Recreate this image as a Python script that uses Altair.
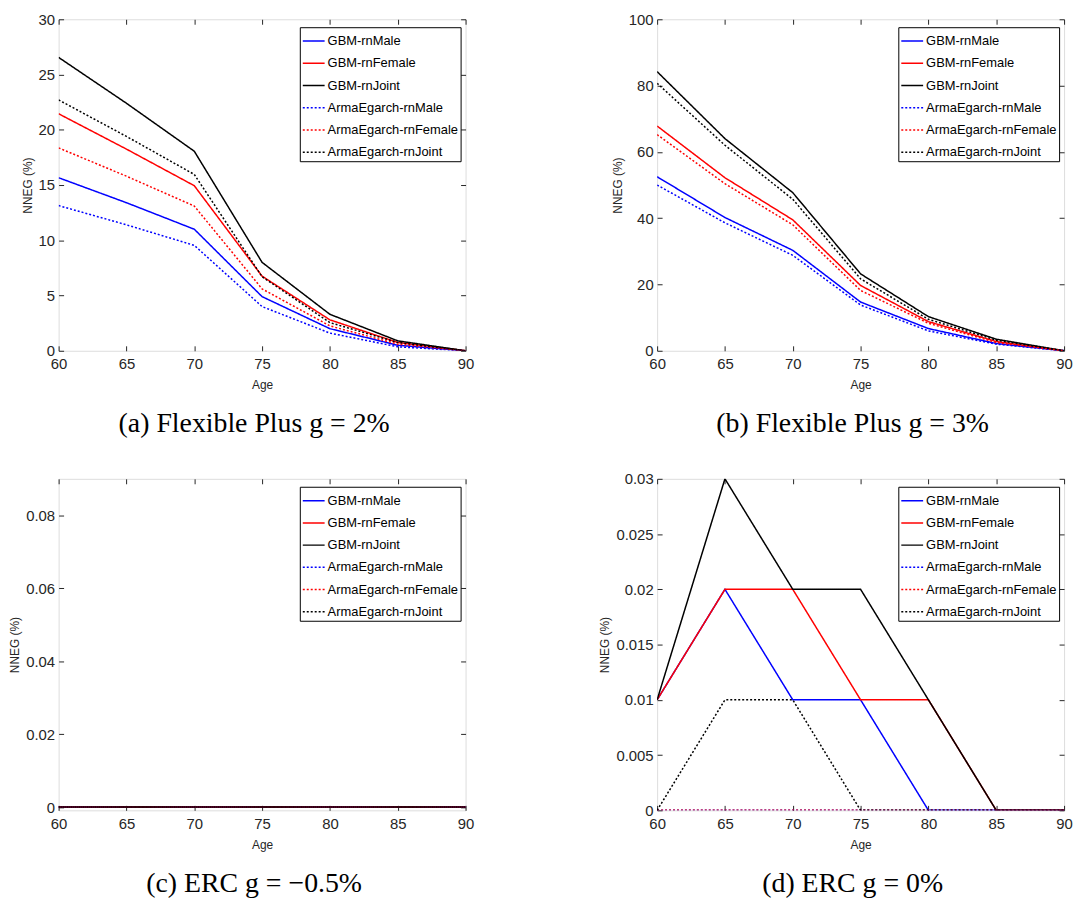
import altair as alt
import pandas as pd

ages = [60, 65, 70, 75, 80, 85, 90]
series_names = ["GBM-rnMale", "GBM-rnFemale", "GBM-rnJoint",
                "ArmaEgarch-rnMale", "ArmaEgarch-rnFemale", "ArmaEgarch-rnJoint"]
series_colors = ["#0000ff", "#ff0000", "#000000", "#0000ff", "#ff0000", "#000000"]
series_dash = [[1, 0], [1, 0], [1, 0], [2, 2], [2, 2], [2, 2]]
series_width = [1.5, 1.5, 1.2, 1.2, 1.2, 1.2]

# (a) Flexible Plus g = 2%
a_gbm_male = [15.66, 13.4, 11.0, 4.9, 2.0, 0.5, 0.0]
a_gbm_female = [21.45, 18.25, 14.94, 6.75, 2.8, 0.75, 0.0]
a_gbm_joint = [26.55, 22.4, 18.06, 8.0, 3.3, 0.9, 0.0]
a_arma_male = [13.14, 11.4, 9.54, 4.0, 1.6, 0.36, 0.0]
a_arma_female = [18.36, 15.8, 13.1, 5.6, 2.25, 0.6, 0.0]
a_arma_joint = [22.7, 19.4, 15.96, 6.7, 2.55, 0.75, 0.0]

# (b) Flexible Plus g = 3%
b_gbm_male = [52.5, 40.2, 30.3, 14.7, 6.7, 2.2, 0.0]
b_gbm_female = [67.8, 52.2, 39.5, 19.7, 8.8, 2.8, 0.0]
b_gbm_joint = [84.2, 64.0, 47.7, 23.2, 10.3, 3.5, 0.0]
b_arma_male = [50.0, 38.6, 28.8, 13.8, 6.0, 2.0, 0.0]
b_arma_female = [65.2, 50.4, 38.0, 18.2, 8.3, 2.5, 0.0]
b_arma_joint = [80.7, 62.0, 45.7, 21.7, 9.5, 3.2, 0.0]

# (c) ERC g = -0.5%
c_gbm_male = [0, 0, 0, 0, 0, 0, 0]
c_gbm_female = [0, 0, 0, 0, 0, 0, 0]
c_gbm_joint = [0, 0, 0, 0, 0, 0, 0]
c_arma_male = [0, 0, 0, 0, 0, 0, 0]
c_arma_female = [0, 0, 0, 0, 0, 0, 0]
c_arma_joint = [0, 0, 0, 0, 0, 0, 0]

# (d) ERC g = 0%
d_gbm_male = [0.01, 0.02, 0.01, 0.01, 0.0, 0.0, 0.0]
d_gbm_female = [0.01, 0.02, 0.02, 0.01, 0.01, 0.0, 0.0]
d_gbm_joint = [0.01, 0.03, 0.02, 0.02, 0.01, 0.0, 0.0]
d_arma_male = [0, 0, 0, 0, 0, 0, 0]
d_arma_female = [0, 0, 0, 0, 0, 0, 0]
d_arma_joint = [0.0, 0.01, 0.01, 0.0, 0.0, 0.0, 0.0]

a_ticks = [0, 5, 10, 15, 20, 25, 30]
b_ticks = [0, 20, 40, 60, 80, 100]
c_ticks = [0, 0.02, 0.04, 0.06, 0.08]
d_ticks = [0, 0.005, 0.01, 0.015, 0.02, 0.025, 0.03]

captions = ["(a) Flexible Plus g = 2%", "(b) Flexible Plus g = 3%",
            "(c) ERC g = \u22120.5%", "(d) ERC g = 0%"]

TICK_FONT = "Liberation Sans"
PW, PH = 410, 334


def make_panel(values, y_domain, y_ticks, caption):
    rows = []
    for name, vals in zip(series_names, values):
        for a, v in zip(ages, vals):
            rows.append({"age": a, "value": v, "series": name})
    df = pd.DataFrame(rows)
    xs = alt.Scale(domain=[60, 90], nice=False, zero=False)
    ys = alt.Scale(domain=y_domain, nice=False, zero=False)
    common = dict(offset=-5, tickSize=5, domain=False, grid=False,
                  tickColor="#262626", labelFlush=False, labelOverlap=False,
                  labelFont=TICK_FONT, labelFontSize=15, labelColor="#262626")
    leg = alt.Legend(title=None, orient="none", legendX=PW - 5 - 162, legendY=8,
                     strokeColor="#000000", fillColor="#ffffff", padding=2,
                     rowPadding=3.4, labelFont=TICK_FONT, labelFontSize=13,
                     labelLimit=300, labelColor="#000000", symbolType="stroke",
                     symbolSize=484, symbolStrokeWidth=1.4, labelOffset=2,
                     cornerRadius=0)
    lines = alt.Chart(df).mark_line(clip=True).encode(
        x=alt.X("age:Q", scale=xs, axis=alt.Axis(
            values=ages, title="Age", labelPadding=6, titleFont=TICK_FONT,
            titleFontSize=12, titleFontWeight="normal", titleColor="#262626",
            titlePadding=8, **common)),
        y=alt.Y("value:Q", scale=ys, axis=alt.Axis(
            values=y_ticks, format="~f", title="NNEG (%)", labelPadding=4,
            titleFont="Liberation Sans", titleFontSize=12, titleFontWeight="normal",
            titleColor="#262626", titlePadding=4, **common)),
        color=alt.Color("series:N", scale=alt.Scale(domain=series_names, range=series_colors),
                        legend=leg),
        strokeDash=alt.StrokeDash("series:N", scale=alt.Scale(domain=series_names, range=series_dash),
                                  legend=leg),
        strokeWidth=alt.StrokeWidth("series:N", scale=alt.Scale(domain=series_names, range=series_width),
                                    legend=None),
    )
    mirror = alt.Chart(df).mark_line(opacity=0).encode(
        x=alt.X("age:Q", scale=xs, axis=alt.Axis(orient="top", values=ages, labels=False,
                                                 title=None, **common)),
        y=alt.Y("value:Q", scale=ys, axis=alt.Axis(orient="right", values=y_ticks, labels=False,
                                                   title=None, **common)),
    )
    return alt.layer(lines, mirror).resolve_axis(x="independent", y="independent").properties(
        width=PW, height=PH,
        title=alt.TitleParams(caption, orient="bottom", anchor="middle", frame="group",
                              font="Liberation Serif", fontSize=28, fontWeight="normal",
                              color="#000000", offset=20, dx=-8),
    )


pa = make_panel([a_gbm_male, a_gbm_female, a_gbm_joint, a_arma_male, a_arma_female, a_arma_joint],
                [0, 30], a_ticks, captions[0])
pb = make_panel([b_gbm_male, b_gbm_female, b_gbm_joint, b_arma_male, b_arma_female, b_arma_joint],
                [0, 100], b_ticks, captions[1])
pc = make_panel([c_gbm_male, c_gbm_female, c_gbm_joint, c_arma_male, c_arma_female, c_arma_joint],
                [-0.0009, 0.09], c_ticks, captions[2])
pd_ = make_panel([d_gbm_male, d_gbm_female, d_gbm_joint, d_arma_male, d_arma_female, d_arma_joint],
                 [0, 0.03], d_ticks, captions[3])

chart = alt.concat(pa, pb, pc, pd_, columns=2, spacing={"row": 32, "column": 124}).resolve_scale(
    color="independent", strokeDash="independent", strokeWidth="independent"
).properties(
    padding={"left": 0, "top": 0, "right": 0, "bottom": 0}
).configure_view(
    stroke="#333333", strokeWidth=1
).configure(background="#ffffff")

chart.save("out.html", embed_options={"renderer": "svg", "actions": False})
